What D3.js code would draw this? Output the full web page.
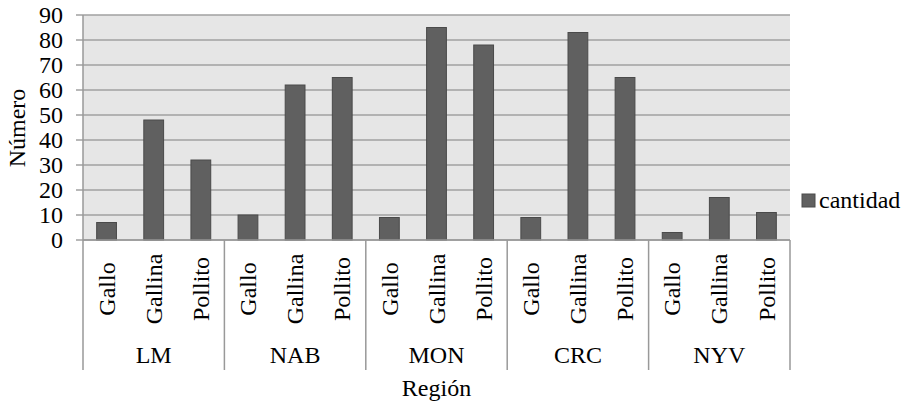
<!DOCTYPE html>
<html><head><meta charset="utf-8">
<script src="https://cdn.jsdelivr.net/npm/d3@7"></script>
<style>body{margin:0;background:#fff}svg{display:block}</style>
</head><body>
<svg id="c" width="908" height="404" font-family="'Liberation Serif', 'Times New Roman', Times, 'DejaVu Serif', serif"></svg>
<script>
const regions = ["LM","NAB","MON","CRC","NYV"];
const types = ["Gallo","Gallina","Pollito"];
const cantidad = [7,48,32, 10,62,65, 9,85,78, 9,83,65, 3,17,11];
const yTicks = [0,10,20,30,40,50,60,70,80,90];
const seriesName = "cantidad";

const svg = d3.select("#c");
const L=83, R=790, T=15, B=240;
const items = [];
regions.forEach((r,i)=>types.forEach((t,j)=>items.push({key:r+"|"+t, region:r, type:t, value:cantidad[i*3+j]})));

const y = d3.scaleLinear().domain([0,90]).range([B,T]);
const x = d3.scaleBand().domain(items.map(d=>d.key)).range([L,R]).paddingInner(0.58).paddingOuter(0.29);
const xg = d3.scaleBand().domain(regions).range([L,R]);

svg.append("rect").attr("x",L).attr("y",T).attr("width",R-L).attr("height",B-T).attr("fill","#e6e6e6");

svg.append("g").selectAll("line").data(yTicks).join("line")
  .attr("x1",L-7).attr("x2",R).attr("y1",d=>y(d)).attr("y2",d=>y(d))
  .attr("stroke","#a0a0a0").attr("stroke-width",1.5);

svg.append("g").selectAll("text").data(yTicks).join("text")
  .attr("x",63).attr("y",d=>y(d)).attr("dy","0.34em").attr("text-anchor","end")
  .attr("font-size",24).text(d=>d);

svg.append("g").selectAll("rect").data(items).join("rect")
  .attr("x",d=>x(d.key)).attr("width",x.bandwidth())
  .attr("y",d=>y(d.value)).attr("height",d=>B-y(d.value))
  .attr("fill","#606060").attr("stroke","#4a4a4a").attr("stroke-width",1);

svg.append("line").attr("x1",L).attr("x2",L).attr("y1",T).attr("y2",B).attr("stroke","#999").attr("stroke-width",1.5);
svg.append("line").attr("x1",L).attr("x2",R).attr("y1",B).attr("y2",B).attr("stroke","#999").attr("stroke-width",1.5);

const bounds = regions.map(r=>xg(r)).concat([R]);
svg.append("g").selectAll("line").data(bounds).join("line")
  .attr("x1",d=>d).attr("x2",d=>d).attr("y1",B).attr("y2",370)
  .attr("stroke","#999").attr("stroke-width",1.5);

svg.append("g").selectAll("text").data(items).join("text")
  .attr("transform",d=>`translate(${x(d.key)+x.bandwidth()/2},289) rotate(-90)`)
  .attr("text-anchor","middle").attr("dy","0.34em").attr("font-size",24).text(d=>d.type);

svg.append("g").selectAll("text").data(regions).join("text")
  .attr("x",d=>xg(d)+xg.bandwidth()/2).attr("y",363).attr("text-anchor","middle")
  .attr("font-size",24).text(d=>d);

svg.append("text").attr("x",(L+R)/2).attr("y",396).attr("text-anchor","middle").attr("font-size",24).text("Región");
svg.append("text").attr("transform","translate(25,128) rotate(-90)").attr("text-anchor","middle").attr("font-size",24).text("Número");

svg.append("rect").attr("x",802).attr("y",194).attr("width",13).attr("height",13).attr("fill","#606060").attr("stroke","#4a4a4a");
svg.append("text").attr("x",819).attr("y",208).attr("font-size",24).text(seriesName);
</script>
</body></html>
